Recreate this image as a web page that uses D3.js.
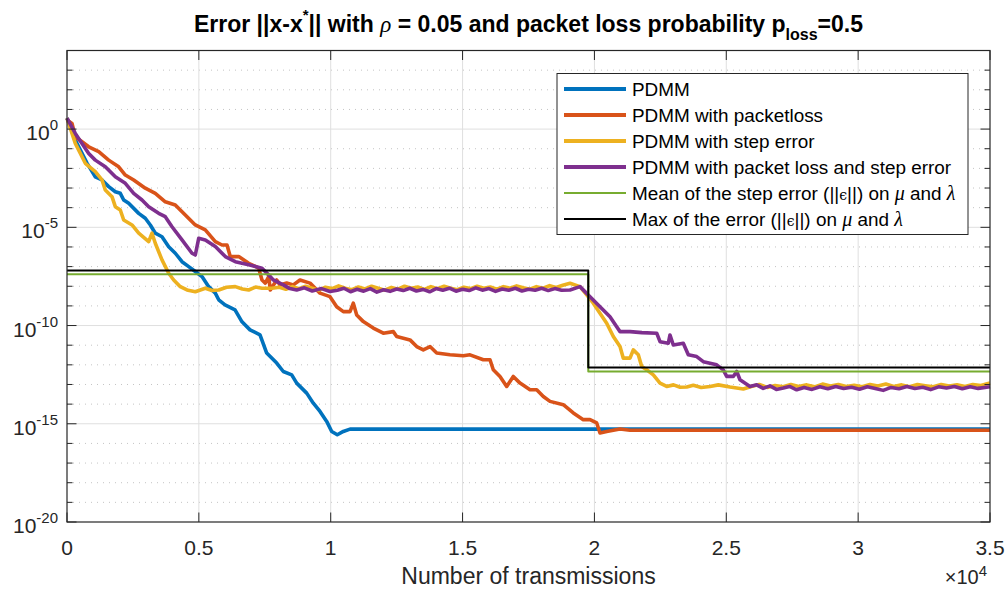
<!DOCTYPE html>
<html>
<head>
<meta charset="utf-8">
<script src="https://cdn.jsdelivr.net/npm/d3@7"></script>
<style>
  body { margin: 0; background: #fff; }
  svg { display: block; font-family: "Liberation Sans", Arial, Helvetica, sans-serif; }
</style>
</head>
<body>
<svg id="chart" width="1007" height="590"></svg>
<script>
// ---- data: [number of transmissions, log10 of the error] ----
const pdmm = [
  [0,0.56],[315,-0.56],[758,-1.73],[1073,-2.43],[1327,-2.59],[1581,-2.93],[1832,-3.19],
  [2021,-3.27],[2150,-3.61],[2340,-3.78],[2719,-4.29],[2969,-4.54],[3159,-4.88],[3348,-5.30],
  [3602,-5.48],[3856,-5.99],[4107,-6.32],[4361,-6.75],[4615,-7.00],[4865,-7.25],[5119,-7.51],
  [5373,-8.02],[5624,-8.35],[5753,-8.69],[5991,-8.95],[6371,-9.20],[6636,-9.81],[6940,-10.22],
  [7319,-10.47],[7573,-11.40],[7952,-11.91],[8202,-12.34],[8521,-12.51],[8710,-12.93],
  [9089,-13.44],[9340,-13.95],[9594,-14.37],[9848,-14.88],[10038,-15.39],[10250,-15.56],
  [10478,-15.39],[10732,-15.27],[35000,-15.27]
];

const pdmmPacketLoss = [
  [0,0.46],[190,0.29],[315,-0.39],[823,-0.90],[1202,-1.15],[1581,-1.58],[1960,-1.92],
  [2211,-2.34],[2529,-2.59],[2969,-3.01],[3348,-3.27],[3727,-3.70],[4107,-3.86],[4486,-4.37],
  [4865,-4.88],[5244,-5.13],[5624,-5.73],[5878,-5.90],[6067,-5.90],[6192,-6.49],[6511,-6.49],
  [6890,-6.83],[7269,-7.08],[7394,-7.68],[7520,-7.84],[7649,-7.51],[7709,-8.19],[7952,-7.68],
  [8077,-7.93],[8331,-7.84],[8581,-7.93],[8835,-7.68],[9215,-7.84],[9594,-8.35],[9973,-8.53],
  [10227,-9.04],[10478,-9.29],[10732,-9.29],[10857,-8.86],[10986,-9.46],[11236,-9.80],
  [11615,-10.13],[11994,-10.39],[12373,-10.31],[12502,-10.56],[13007,-10.73],[13261,-11.07],
  [13511,-11.24],[13765,-11.07],[14019,-11.40],[14523,-11.49],[15028,-11.54],[15282,-11.49],
  [15786,-11.74],[16040,-11.74],[16165,-12.25],[16419,-12.59],[16673,-13.10],[16923,-12.59],
  [17178,-12.93],[17557,-13.27],[17811,-13.27],[18061,-13.61],[18315,-13.86],[18820,-14.03],
  [19199,-14.45],[19578,-14.79],[19832,-14.79],[20086,-14.96],[20211,-15.47],[20465,-15.39],
  [20970,-15.27],[21349,-15.33],[35000,-15.33]
];

const pdmmStepError = [
  [0,0.56],[315,-0.73],[694,-1.74],[1073,-2.17],[1327,-2.59],[1452,-3.10],[1706,-3.44],
  [1832,-3.95],[2021,-4.12],[2150,-4.63],[2465,-4.88],[2719,-5.30],[3098,-5.73],[3223,-5.30],
  [3348,-5.81],[3602,-6.66],[3856,-7.34],[4046,-7.68],[4296,-8.02],[4550,-8.19],[4865,-8.28],
  [5244,-8.10],[5500,-8.22],[5753,-8.19],[6050,-8.05],[6382,-8.02],[6650,-8.14],[6890,-8.19],
  [7150,-8.04],[7394,-8.10],[7774,-8.10],
  [8050,-8.05],[8300,-8.15],[8550,-8.02],[8800,-8.12],[9050,-8.00],[9300,-8.10],[9550,-8.20],
  [9800,-8.05],[10050,-8.12],[10300,-7.98],[10550,-8.10],[10800,-8.18],[11050,-8.04],
  [11300,-8.14],[11550,-8.00],[11800,-8.10],[12050,-8.20],[12300,-8.06],[12550,-8.15],
  [12800,-8.00],[13050,-8.10],[13300,-8.04],[13550,-8.16],[13800,-8.02],[14050,-8.12],
  [14300,-8.00],[14550,-8.10],[14800,-8.18],[15050,-8.05],[15300,-8.12],[15550,-8.00],
  [15800,-8.10],[16050,-8.04],[16300,-8.15],[16550,-8.02],[16800,-8.10],[17050,-7.98],
  [17300,-8.08],[17550,-8.15],[17800,-8.02],[18050,-8.10],[18300,-7.97],[18550,-8.06],
  [18800,-7.95],[19074,-7.85],[19453,-8.02],[19707,-8.44],[19957,-8.86],[20211,-9.37],
  [20465,-9.88],[20716,-10.56],[20970,-11.07],[21095,-11.66],[21349,-11.66],[21474,-11.24],
  [21664,-11.49],[21793,-12.08],[21983,-12.25],[22233,-12.51],[22487,-12.93],[22741,-13.10],
  [23000,-13.02],[23250,-13.14],[23499,-13.13],[23750,-13.04],[24050,-13.15],[24383,-13.10],
  [24700,-13.02],[25141,-13.13],[25645,-13.23],
  [25950,-13.10],[26250,-13.00],[26550,-13.15],[26850,-13.05],[27150,-13.12],[27450,-13.00],
  [27750,-13.10],[28050,-13.02],[28350,-13.12],[28650,-12.98],[28950,-13.08],[29250,-13.00],
  [29550,-13.10],[29850,-13.04],[30150,-13.12],[30450,-13.00],[30750,-13.08],[31050,-12.98],
  [31350,-13.10],[31650,-13.02],[31950,-13.12],[32250,-13.00],[32550,-13.06],[32850,-13.12],
  [33150,-13.00],[33450,-13.08],[33750,-13.02],[34050,-13.10],[34350,-13.00],[34650,-13.05],
  [35000,-12.93]
];

const pdmmPacketLossStepError = [
  [0,0.56],[315,-0.22],[823,-1.24],[1073,-1.58],[1452,-1.92],[1832,-2.43],[2211,-2.76],
  [2529,-3.27],[2844,-3.61],[3098,-3.95],[3477,-4.29],[3727,-4.46],[3982,-4.97],[4361,-5.64],
  [4740,-6.32],[4865,-6.41],[4994,-5.56],[5244,-5.64],[5624,-5.98],[6003,-6.49],[6382,-6.75],
  [6890,-6.91],[7394,-7.08],[7709,-7.51],[7823,-7.68],[8202,-7.93],[8450,-8.12],[8710,-8.19],
  [9000,-8.08],[9300,-8.24],[9650,-8.12],[9973,-8.27],
  [10250,-8.20],[10500,-8.10],[10750,-8.28],[11000,-8.15],[11250,-8.25],[11500,-8.12],
  [11750,-8.30],[12000,-8.18],[12250,-8.26],[12500,-8.14],[12750,-8.22],[13000,-8.10],
  [13250,-8.24],[13500,-8.16],[13750,-8.28],[14000,-8.12],[14250,-8.20],[14500,-8.10],
  [14750,-8.25],[15000,-8.15],[15250,-8.22],[15500,-8.08],[15750,-8.20],[16000,-8.12],
  [16250,-8.26],[16500,-8.14],[16750,-8.20],[17000,-8.10],[17250,-8.24],[17500,-8.15],
  [17750,-8.20],[18000,-8.10],[18250,-8.22],[18500,-8.12],[18750,-8.20],[19074,-8.19],
  [19453,-8.02],[19833,-8.53],[20211,-9.04],[20590,-9.55],[20844,-10.06],[20970,-10.31],
  [21349,-10.31],[21800,-10.36],[22362,-10.39],[22487,-10.82],[22802,-10.90],[22866,-10.48],
  [22991,-10.99],[23370,-10.90],[23560,-11.49],[23878,-11.58],[24128,-11.84],[24636,-12.00],
  [24887,-12.26],[25016,-12.59],[25266,-12.59],[25395,-12.34],[25520,-12.76],[25899,-13.10],
  [26154,-13.02],[26400,-13.20],[26658,-13.07],[26900,-13.25],[27163,-13.18],[27400,-13.10],
  [27669,-13.27],
  [27950,-13.15],[28250,-13.25],[28550,-13.12],[28850,-13.22],[29150,-13.10],[29450,-13.20],
  [29750,-13.14],[30050,-13.24],[30350,-13.12],[30650,-13.20],[30950,-13.30],[31250,-13.15],
  [31550,-13.22],[31850,-13.10],[32150,-13.20],[32450,-13.14],[32750,-13.26],[33050,-13.12],
  [33350,-13.18],[33650,-13.10],[33950,-13.22],[34250,-13.12],[34550,-13.20],[35000,-13.12]
];

// step-error bounds: level before and after the switch point
const boundSwitchAt = 19767;
const meanStepErrLevels = [-7.39, -12.34];
const maxStepErrLevels = [-7.20, -12.14];

// axes ticks
const xTickValues = [0, 5000, 10000, 15000, 20000, 25000, 30000, 35000];
const xTickLabels = ["0", "0.5", "1", "1.5", "2", "2.5", "3", "3.5"];
const yMajorExps = [0, -5, -10, -15, -20];
const yMinorExps = d3.range(4, -21, -1).filter(e => e % 5 !== 0);

const colors = {
  pdmm: "#0072BD", loss: "#D95319", step: "#EDB120",
  both: "#7E2F8E", mean: "#77AC30", max: "#000000"
};

// ---- layout ----
const svg = d3.select("#chart");
const plotLeft = 67, plotRight = 990, plotTop = 50.5, plotBottom = 522;
const x = d3.scaleLinear().domain([0, 35000]).range([plotLeft, plotRight]);
const y = d3.scaleLog().domain([1e-20, 1e4]).range([plotBottom, plotTop]);
const axisColor = "#262626";

// grid
const grid = svg.append("g");
grid.selectAll(".ymin").data(yMinorExps).join("line")
  .attr("x1", plotLeft).attr("x2", plotRight)
  .attr("y1", e => y(Math.pow(10, e))).attr("y2", e => y(Math.pow(10, e)))
  .attr("stroke", "#c4c4c4").attr("stroke-width", 1).attr("stroke-dasharray", "1,5");
grid.selectAll(".ymaj").data(yMajorExps.slice(0, 4)).join("line")
  .attr("x1", plotLeft).attr("x2", plotRight)
  .attr("y1", e => y(Math.pow(10, e))).attr("y2", e => y(Math.pow(10, e)))
  .attr("stroke", "#dfdfdf").attr("stroke-width", 1);
grid.selectAll(".xmaj").data(xTickValues.slice(1, -1)).join("line")
  .attr("x1", d => x(d)).attr("x2", d => x(d))
  .attr("y1", plotTop).attr("y2", plotBottom)
  .attr("stroke", "#dfdfdf").attr("stroke-width", 1);

// series
const plot = svg.append("g");
const line = d3.line().x(d => x(d[0])).y(d => y(Math.pow(10, d[1])));
const stepLine = d3.line().x(d => x(d[0])).y(d => y(Math.pow(10, d[1]))).curve(d3.curveStepAfter);
const boundData = lv => [[0, lv[0]], [boundSwitchAt, lv[1]], [35000, lv[1]]];

const series = [
  { data: pdmm, color: colors.pdmm, w: 3.6, gen: line },
  { data: pdmmPacketLoss, color: colors.loss, w: 3.6, gen: line },
  { data: pdmmStepError, color: colors.step, w: 3.6, gen: line },
  { data: pdmmPacketLossStepError, color: colors.both, w: 3.6, gen: line },
  { data: boundData(meanStepErrLevels), color: colors.mean, w: 2, gen: stepLine },
  { data: boundData(maxStepErrLevels), color: colors.max, w: 2, gen: stepLine }
];
plot.selectAll("path").data(series).join("path")
  .attr("d", s => s.gen(s.data))
  .attr("fill", "none")
  .attr("stroke", s => s.color)
  .attr("stroke-width", s => s.w)
  .attr("stroke-linejoin", "round");

// axes box and ticks
const ax = svg.append("g").attr("stroke", axisColor);
ax.append("rect").attr("x", plotLeft).attr("y", plotTop)
  .attr("width", plotRight - plotLeft).attr("height", plotBottom - plotTop)
  .attr("fill", "none").attr("stroke-width", 1.2);
const majLen = 9.5, minLen = 5.5;
xTickValues.forEach(v => {
  ax.append("line").attr("x1", x(v)).attr("x2", x(v)).attr("y1", plotBottom).attr("y2", plotBottom - majLen);
  ax.append("line").attr("x1", x(v)).attr("x2", x(v)).attr("y1", plotTop).attr("y2", plotTop + majLen);
});
yMajorExps.forEach(e => {
  const yy = y(Math.pow(10, e));
  ax.append("line").attr("x1", plotLeft).attr("x2", plotLeft + majLen).attr("y1", yy).attr("y2", yy);
  ax.append("line").attr("x1", plotRight).attr("x2", plotRight - majLen).attr("y1", yy).attr("y2", yy);
});
yMinorExps.forEach(e => {
  const yy = y(Math.pow(10, e));
  ax.append("line").attr("x1", plotLeft).attr("x2", plotLeft + minLen).attr("y1", yy).attr("y2", yy);
  ax.append("line").attr("x1", plotRight).attr("x2", plotRight - minLen).attr("y1", yy).attr("y2", yy);
});

// tick labels
const txt = svg.append("g").attr("fill", axisColor);
txt.selectAll(".xl").data(xTickValues).join("text")
  .attr("x", d => x(d)).attr("y", 555).attr("text-anchor", "middle")
  .attr("font-size", 21).text((d, i) => xTickLabels[i]);
yMajorExps.forEach(e => {
  const t = txt.append("text").attr("x", 58).attr("y", y(Math.pow(10, e)) + 11)
    .attr("text-anchor", "end").attr("font-size", 21);
  t.append("tspan").text("10");
  t.append("tspan").attr("font-size", 15).attr("dy", -10).text(String(e));
});
// x exponent
const xe = txt.append("text").attr("x", 987).attr("y", 584).attr("text-anchor", "end").attr("font-size", 20);
xe.append("tspan").text("\u00d710");
xe.append("tspan").attr("font-size", 15).attr("dy", -8).text("4");

// axis label
txt.append("text").attr("x", (plotLeft + plotRight) / 2).attr("y", 584).attr("text-anchor", "middle")
  .attr("font-size", 23).text("Number of transmissions");

// title
const title = svg.append("text").attr("x", (plotLeft + plotRight) / 2).attr("y", 32)
  .attr("text-anchor", "middle").attr("font-size", 23).attr("font-weight", "bold").attr("fill", "#000");
title.append("tspan").text("Error ||x-x");
title.append("tspan").attr("font-size", 15).attr("dy", -12).text("*");
title.append("tspan").attr("dy", 12).text("|| with ");
title.append("tspan").attr("font-family", "'Liberation Serif', serif").attr("font-style", "italic")
  .attr("font-weight", "normal").text("\u03c1");
title.append("tspan").text(" = 0.05 and packet loss probability p");
title.append("tspan").attr("font-size", 16).attr("dy", 8).text("loss");
title.append("tspan").attr("dy", -8).text("=0.5");

// legend
const legendItems = [
  { color: colors.pdmm, w: 4, parts: [["PDMM"]] },
  { color: colors.loss, w: 4, parts: [["PDMM with packetloss"]] },
  { color: colors.step, w: 4, parts: [["PDMM with step error"]] },
  { color: colors.both, w: 4, parts: [["PDMM with packet loss and step error"]] },
  { color: colors.mean, w: 2, parts: [["Mean of the step error (||"], ["\u03f5", "eps"], ["||) on "], ["\u03bc", "it"], [" and "], ["\u03bb", "it"]] },
  { color: colors.max, w: 2, parts: [["Max of the error (||"], ["\u03f5", "eps"], ["||) on "], ["\u03bc", "it"], [" and "], ["\u03bb", "it"]] }
];
const lg = svg.append("g");
lg.append("rect").attr("x", 557).attr("y", 73.5).attr("width", 411).attr("height", 161)
  .attr("fill", "#fff").attr("stroke", axisColor).attr("stroke-width", 1);
legendItems.forEach((it, i) => {
  const cy = 89 + i * 26;
  lg.append("line").attr("x1", 564).attr("x2", 626).attr("y1", cy).attr("y2", cy)
    .attr("stroke", it.color).attr("stroke-width", it.w);
  const t = lg.append("text").attr("x", 632).attr("y", cy + 6.8).attr("font-size", 18.9).attr("fill", "#000");
  it.parts.forEach(p => {
    const ts = t.append("tspan").text(p[0]);
    if (p[1] === "it") ts.attr("font-family", "'Liberation Serif', serif").attr("font-style", "italic").attr("font-size", 20);
    if (p[1] === "eps") ts.attr("font-family", "'DejaVu Serif', serif").attr("font-size", 14);
  });
});
</script>
</body>
</html>
